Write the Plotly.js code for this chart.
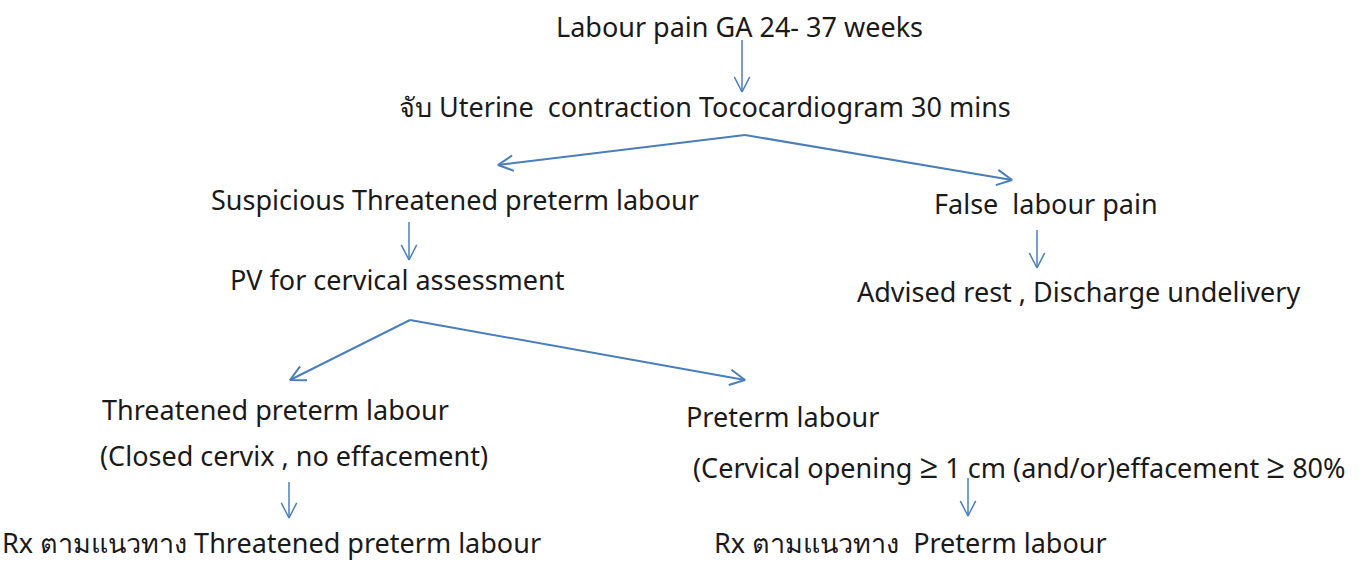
<!DOCTYPE html>
<html>
<head>
<meta charset="utf-8">
<script src="https://cdn.plot.ly/plotly-3.0.1.min.js"></script>
<style>html,body{margin:0;padding:0;background:#fff;}#chart{width:1371px;height:561px;}</style>
</head>
<body>
<div id="chart"></div>
<script>
// ---- content (flowchart nodes and edges) ----
var nodeLabels = [
  "Labour pain GA 24- 37 weeks",
  "จับ Uterine  contraction Tococardiogram 30 mins",
  "Suspicious Threatened preterm labour",
  "False  labour pain",
  "PV for cervical assessment",
  "Advised rest , Discharge undelivery",
  "Threatened preterm labour",
  "(Closed cervix , no effacement)",
  "Preterm labour",
  "(Cervical opening <span style='font-size:33px'>≥</span> 1 cm (and/or)effacement <span style='font-size:33px'>≥</span> 80%",
  "Rx ตามแนวทาง Threatened preterm labour",
  "Rx ตามแนวทาง  Preterm labour"
];
var edgeFrom = [0, 1, 1, 2, 3, 4, 4, 7, 9];
var edgeTo   = [1, 2, 3, 4, 5, 6, 8, 10, 11];

// ---- layout geometry (pixel positions of the drawing) ----
var nodeX = [739, 705, 455, 1046, 397, 1078, 100, 98, 684, 691, 271, 910];
var nodeY = [26, 106, 199, 203, 279, 291, 409, 455, 416, 465, 542, 542];
var nodeAnchor = ["center","center","center","center","center","center","left","left","left","left","center","center"];
// arrow start / end points (x0, y0, x1, y1)
var arrowGeom = [
  [742, 40, 742, 92],
  [745, 135, 498, 165],
  [745, 135, 1012, 180],
  [409, 222, 409, 260],
  [1037, 230, 1037, 268],
  [410, 320, 290, 380],
  [410, 320, 745, 380],
  [289, 482, 289, 518],
  [968, 478, 968, 516]
];

var lineColor = "#4a7ebb";
var traces = [];
for (var i = 0; i < edgeFrom.length; i++) {
  var g = arrowGeom[i];
  var x0 = g[0], y0 = g[1], x1 = g[2], y1 = g[3];
  var dx = x1 - x0, dy = y1 - y0, L = Math.sqrt(dx*dx + dy*dy);
  var ux = dx / L, uy = dy / L;
  var len = 17, ang = 27 * Math.PI / 180;
  var c = Math.cos(ang), s = Math.sin(ang);
  var bx = -ux, by = -uy;
  var ax1 = x1 + len * (bx * c - by * s), ay1 = y1 + len * (bx * s + by * c);
  var ax2 = x1 + len * (bx * c + by * s), ay2 = y1 + len * (-bx * s + by * c);
  var vertical = Math.abs(dx) < 1;
  traces.push({
    type: "scatter", mode: "lines", hoverinfo: "skip", showlegend: false,
    x: [x0, x1, null, ax1, x1, ax2],
    y: [y0, y1, null, ay1, y1, ay2],
    line: {color: lineColor, width: vertical ? 1.5 : 2}
  });
}

var annotations = nodeLabels.map(function (t, k) {
  var left = nodeAnchor[k] === "left";
  return {
    x: nodeX[k], y: nodeY[k], xref: "x", yref: "y",
    text: t, showarrow: false, xanchor: left ? "left" : "center", yanchor: "middle",
    font: {family: "Noto Sans, Open Sans, sans-serif", size: 27, color: "#1a1a1a"}
  };
});

var layout = {
  width: 1371, height: 561,
  margin: {l: 0, r: 0, t: 0, b: 0},
  paper_bgcolor: "#ffffff", plot_bgcolor: "#ffffff",
  xaxis: {range: [0, 1371], visible: false, fixedrange: true},
  yaxis: {range: [561, 0], visible: false, fixedrange: true},
  annotations: annotations,
  showlegend: false
};
Plotly.newPlot("chart", traces, layout, {displayModeBar: false, staticPlot: true});
</script>
</body>
</html>
